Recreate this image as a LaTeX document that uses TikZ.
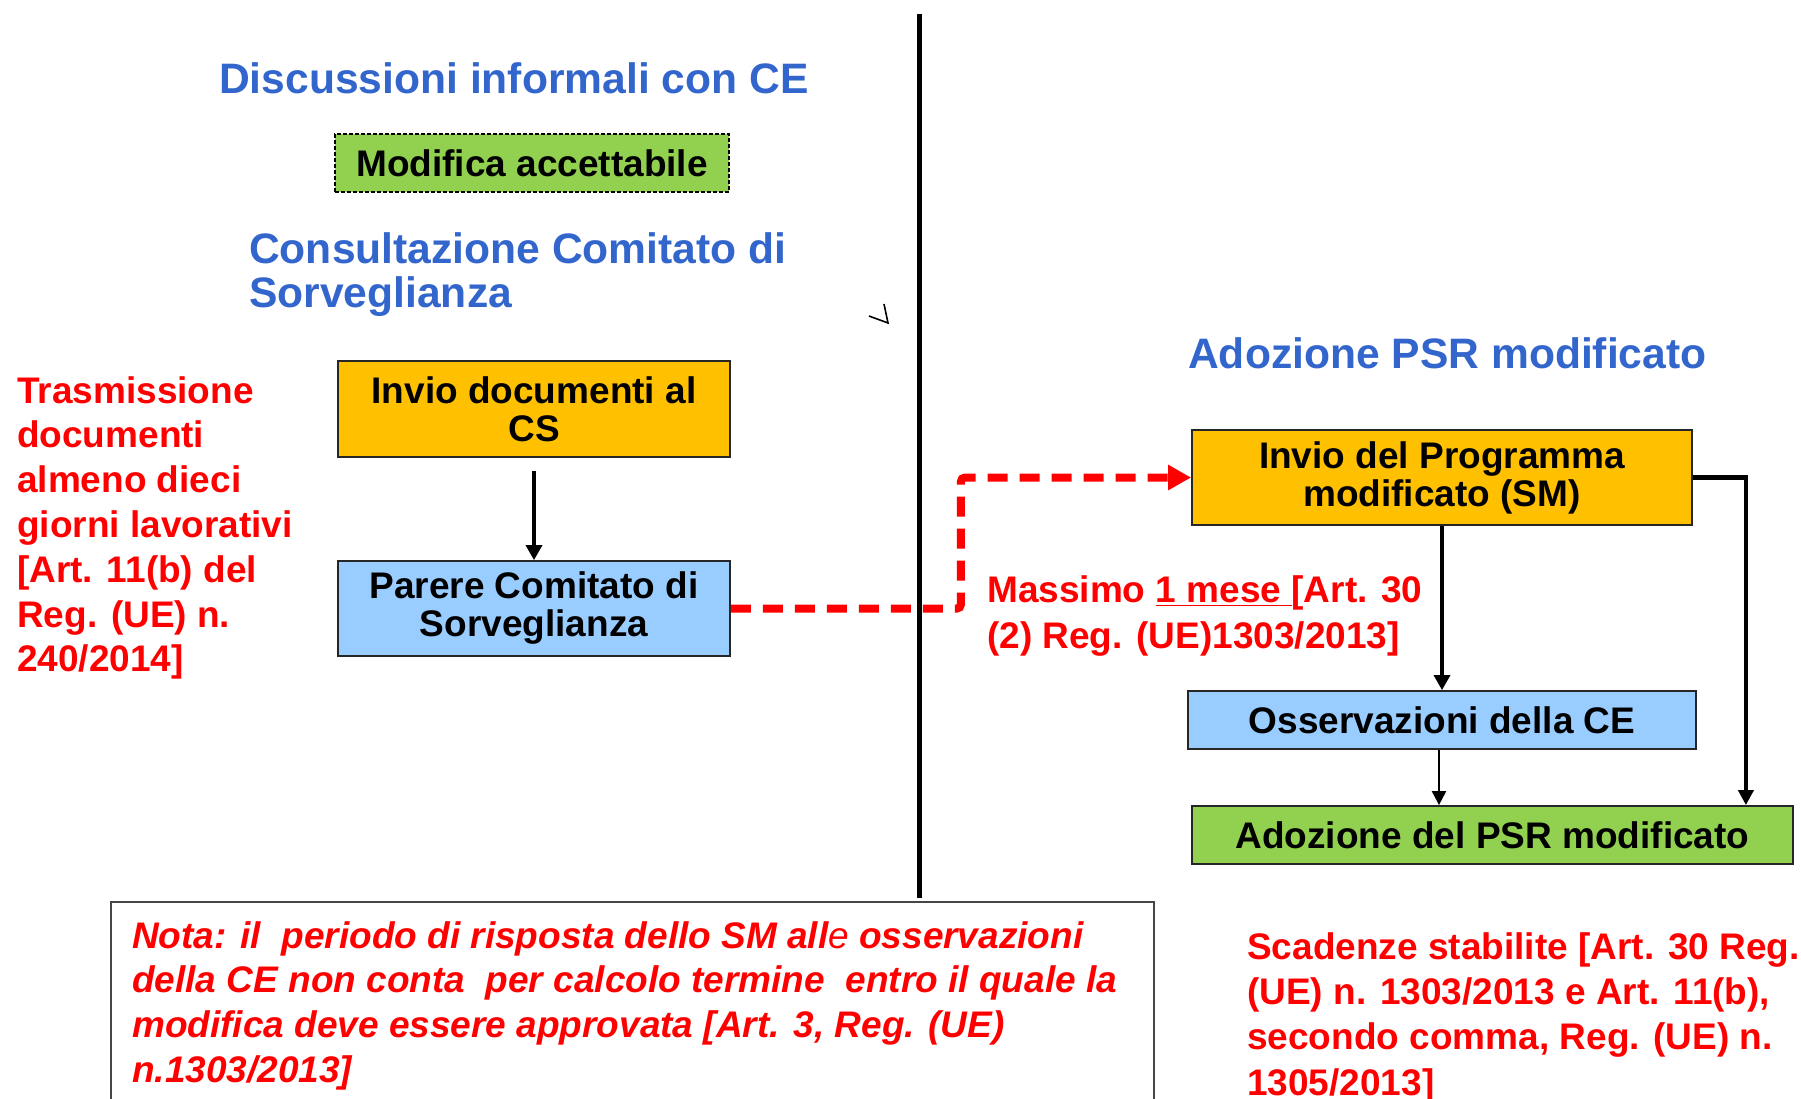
\documentclass[tikz,border=0pt]{standalone}
\usepackage{fontspec}
\setmainfont{Liberation Sans}
\usetikzlibrary{arrows.meta}
\definecolor{ttlblue}{RGB}{51,102,204}
\definecolor{boxorange}{RGB}{255,192,0}
\definecolor{boxblue}{RGB}{153,204,255}
\definecolor{boxgreen}{RGB}{146,208,80}
\definecolor{notegray}{RGB}{70,70,70}
\begin{document}
\begin{tikzpicture}[x=1pt,y=-1pt,
  box/.style={draw=black!85, line width=1.8pt, inner sep=0pt, align=center,
    font=\bfseries\fontsize{37}{38}\selectfont},
  ttl/.style={anchor=west, inner sep=0pt, text=ttlblue, align=left,
    font=\bfseries\fontsize{42.6}{44}\selectfont},
  redtxt/.style={anchor=west, inner sep=0pt, text=red, align=left,
    font=\bfseries\fontsize{37}{44.8}\selectfont},
  blkarrow/.style={draw=black, line width=3.4pt, -{Triangle[length=15pt,width=16pt]}},
  thinarrow/.style={draw=black, line width=2pt, -{Triangle[length=14pt,width=14pt]}},
  reddash/.style={draw=red, line width=8pt, dash pattern=on 20pt off 12pt, rounded corners=4pt,
    -{Triangle[length=23pt,width=24pt]}}
]
\useasboundingbox[fill=white] (0,0) rectangle (1801,1098);

% divider
\coordinate (vtop) at (919,14);
\coordinate (vbot) at (919,898);
\draw[line width=5pt] (vtop) -- (vbot);

% titles
\node[ttl] (t1) at (219,78) {Discussioni informali con CE};
\node[ttl] (t2) at (249,275) {Consultazione Comitato di\\Sorveglianza};
\node[ttl] (t3) at (1188,353) {Adozione PSR modificato};

% small check mark
\draw[line width=1.6pt] (869,316) -- (888,323) -- (884,304);

% boxes left
\node[box, fill=boxgreen, draw=black, line width=1.4pt, dash pattern=on 4pt off 2pt,
  minimum width=394pt, minimum height=58pt] (modif) at (532,163) {Modifica accettabile};
\node[box, fill=boxorange, minimum width=392pt, minimum height=96pt] (invdoc) at (534,409)
  {Invio documenti al\\CS};
\node[box, fill=boxblue, minimum width=392pt, minimum height=95pt] (parere) at (534,608.5)
  {Parere Comitato di\\Sorveglianza};

% boxes right
\node[box, fill=boxorange, minimum width=500pt, minimum height=95pt] (invprog) at (1442,477.5)
  {Invio del Programma\\modificato (SM)};
\node[box, fill=boxblue, minimum width=508pt, minimum height=58pt] (osserv) at (1442,720)
  {Osservazioni della CE};
\node[box, fill=boxgreen, minimum width=601pt, minimum height=58pt] (adoz) at (1492.5,835)
  {Adozione del PSR modificato};

% connectors
\draw[blkarrow] ([yshift=-13pt]invdoc.south) -- (parere.north);
\draw[reddash] (parere.east) -- ++(230,0) |- (invprog.west);
\draw[blkarrow] (invprog.south) -- (osserv.north);
\draw[thinarrow] ([xshift=-3pt]osserv.south) -- ([xshift=-3pt]osserv.south |- adoz.north);
\draw[draw=black, line width=4.2pt, -{Triangle[length=15pt,width=15pt]}]
  (invprog.east) -| ([xshift=-48pt]adoz.north east);

% red texts
\node[redtxt] (lefttxt) at (17,528) {Trasmissione\\documenti\\almeno dieci\\giorni lavorativi\\{[}Art. 11(b) del\\Reg. (UE) n.\\240/2014]};
\node[redtxt, font=\bfseries\fontsize{37}{46}\selectfont] (massimo) at (987,616.5)
  {Massimo \underline{1 mese }[Art. 30\\(2) Reg. (UE)1303/2013]};
\node[redtxt, font=\bfseries\fontsize{37}{45.3}\selectfont] (scad) at (1247,1017.5)
  {Scadenze stabilite [Art. 30 Reg.\\(UE) n. 1303/2013 e Art. 11(b),\\secondo comma, Reg. (UE) n.\\1305/2013]};

% note box
\coordinate (nbl) at (111,1100);
\coordinate (ntl) at (111,902);
\coordinate (ntr) at (1154,902);
\coordinate (nbr) at (1154,1100);
\draw[notegray, line width=1.6pt] (nbl) -- (ntl) -- (ntr) -- (nbr);
\node[redtxt, font=\bfseries\itshape\fontsize{37}{44.7}\selectfont] (note) at (132,1005.5)
  {Nota: il\ \ periodo di risposta dello SM all{\mdseries e} osservazioni\\della CE non conta\ \ per calcolo termine\ \ entro il quale la\\modifica deve essere approvata [Art. 3, Reg. (UE)\\n.1303/2013]};
\end{tikzpicture}
\end{document}
